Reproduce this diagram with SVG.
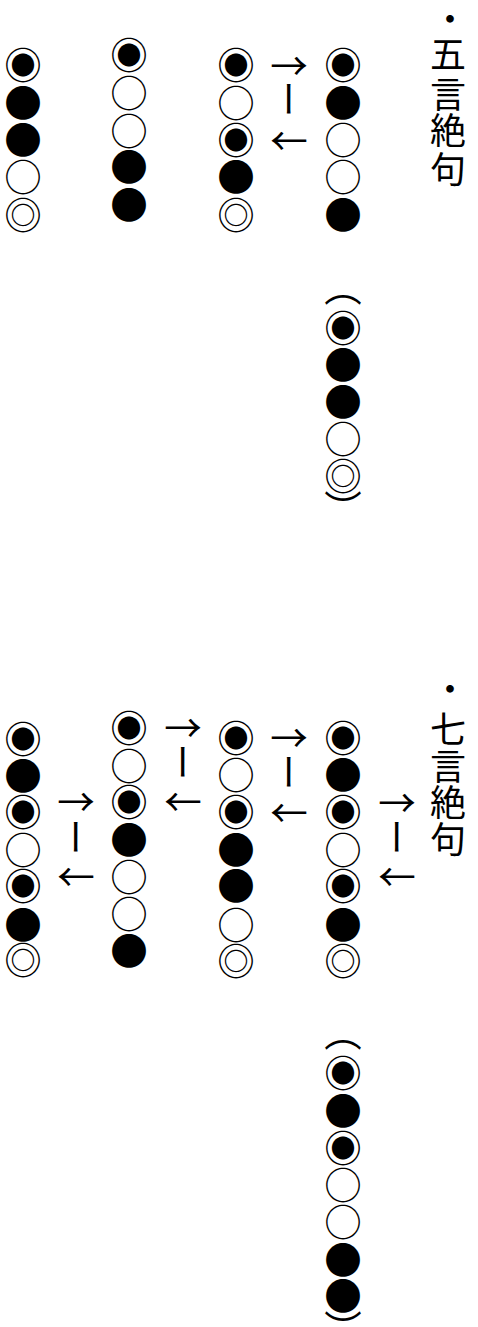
<svg xmlns="http://www.w3.org/2000/svg" width="478" height="1327" viewBox="0 0 478 1327">
<style>
text{font-family:"Noto Sans CJK JP","Noto Sans CJK SC",sans-serif;fill:#000;text-anchor:middle;dominant-baseline:central}
.c{font-size:37.5px}
.t{font-size:36px}
.a{font-size:37.5px}
.v{font-size:37.5px;writing-mode:vertical-rl}
</style>
<rect width="478" height="1327" fill="#fff"/>
<g id="title-5">
<text class="t" x="450" y="17">・</text>
<text class="t" x="448" y="52">五</text>
<text class="t" x="448" y="92">言</text>
<text class="t" x="448" y="128">絶</text>
<text class="t" x="448" y="167">句</text>
</g>
<g id="col5-1"><text class="c" x="343" y="62">◉</text><text class="c" x="343" y="100">●</text><text class="c" x="343" y="137">○</text><text class="c" x="343" y="174">○</text><text class="c" x="343" y="212">●</text></g>
<g id="col5-2"><text class="c" x="236" y="62">◉</text><text class="c" x="236" y="100">○</text><text class="c" x="236" y="137">◉</text><text class="c" x="236" y="174">●</text><text class="c" x="236" y="212">◎</text></g>
<g id="col5-3"><text class="c" x="129" y="52">◉</text><text class="c" x="129" y="90">○</text><text class="c" x="129" y="128">○</text><text class="c" x="129" y="164">●</text><text class="c" x="129" y="202">●</text></g>
<g id="col5-4"><text class="c" x="23" y="62">◉</text><text class="c" x="23" y="100">●</text><text class="c" x="23" y="137">●</text><text class="c" x="23" y="174">○</text><text class="c" x="23" y="212">◎</text></g>
<g id="alt5"><text class="c" x="343" y="284">︵</text><text class="c" x="343" y="325">◉</text><text class="c" x="343" y="362">●</text><text class="c" x="343" y="399">●</text><text class="c" x="343" y="436">○</text><text class="c" x="343" y="473">◎</text><text class="c" x="343" y="506">︶</text></g>
<g id="title-7">
<text class="t" x="450" y="687">・</text>
<text class="t" x="448" y="727">七</text>
<text class="t" x="448" y="764">言</text>
<text class="t" x="448" y="800">絶</text>
<text class="t" x="448" y="837">句</text>
</g>
<g id="col7-1"><text class="c" x="343" y="735">◉</text><text class="c" x="343" y="772">●</text><text class="c" x="343" y="809">◉</text><text class="c" x="343" y="847">○</text><text class="c" x="343" y="883">◉</text><text class="c" x="343" y="922">●</text><text class="c" x="343" y="958">◎</text></g>
<g id="col7-2"><text class="c" x="236" y="735">◉</text><text class="c" x="236" y="772">○</text><text class="c" x="236" y="809">◉</text><text class="c" x="236" y="847">●</text><text class="c" x="236" y="883">●</text><text class="c" x="236" y="922">○</text><text class="c" x="236" y="958">◎</text></g>
<g id="col7-3"><text class="c" x="129" y="725">◉</text><text class="c" x="129" y="763">○</text><text class="c" x="129" y="799">◉</text><text class="c" x="129" y="837">●</text><text class="c" x="129" y="874">○</text><text class="c" x="129" y="911">○</text><text class="c" x="129" y="948">●</text></g>
<g id="col7-4"><text class="c" x="23" y="736">◉</text><text class="c" x="23" y="773">●</text><text class="c" x="23" y="809">◉</text><text class="c" x="23" y="847">○</text><text class="c" x="23" y="883">◉</text><text class="c" x="23" y="922">●</text><text class="c" x="23" y="957">◎</text></g>
<g id="alt7"><text class="c" x="343" y="1029">︵</text><text class="c" x="343" y="1070">◉</text><text class="c" x="343" y="1108">●</text><text class="c" x="343" y="1145">◉</text><text class="c" x="343" y="1182">○</text><text class="c" x="343" y="1219">○</text><text class="c" x="343" y="1257">●</text><text class="c" x="343" y="1293">●</text><text class="c" x="343" y="1326">︶</text></g>
<g id="connectors">
<g id="sw5"><text class="a" x="289" y="63">→</text><text class="v" x="289" y="99">ー</text><text class="a" x="289" y="138">←</text></g>
<g id="sw7-1"><text class="a" x="397" y="800">→</text><text class="v" x="397" y="837">ー</text><text class="a" x="397" y="874">←</text></g>
<g id="sw7-2"><text class="a" x="289" y="735">→</text><text class="v" x="289" y="772">ー</text><text class="a" x="289" y="810">←</text></g>
<g id="sw7-3"><text class="a" x="183" y="725">→</text><text class="v" x="183" y="762">ー</text><text class="a" x="183" y="799">←</text></g>
<g id="sw7-4"><text class="a" x="76" y="799">→</text><text class="v" x="76" y="837">ー</text><text class="a" x="76" y="874">←</text></g>
</g>
</svg>
